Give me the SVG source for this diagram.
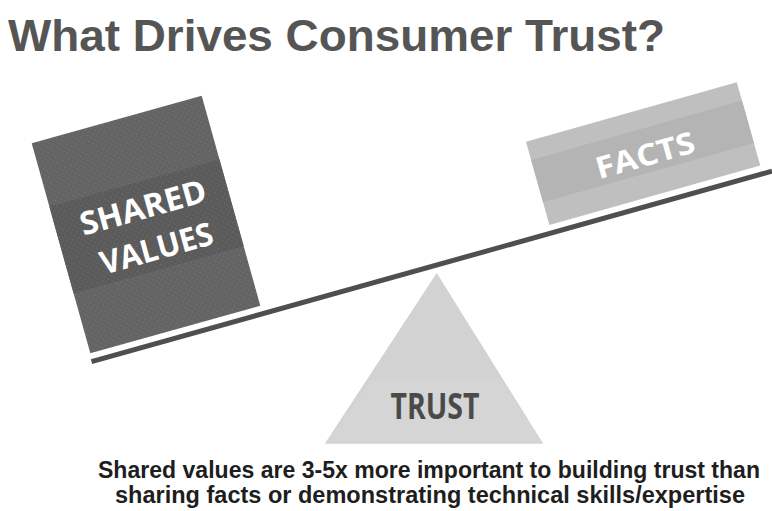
<svg xmlns="http://www.w3.org/2000/svg" width="772" height="511" viewBox="0 0 772 511">
  <defs>
    <style>
      .title { font-family: "Liberation Sans", Arial, sans-serif; font-weight: 700; fill: #555555; }
      .caption { font-family: "Liberation Sans", Arial, sans-serif; font-weight: 700; fill: #1e1e1e; font-size: 23px; }
      .label { font-family: "Open Sans", "DejaVu Sans", sans-serif; font-weight: 700; fill: #ffffff; text-anchor: middle; }
      .trust { font-family: "Open Sans", "DejaVu Sans", sans-serif; font-weight: 700; fill: #4a4a4a; text-anchor: middle; }
    </style>
    <!-- faint speckle used on the block faces -->
    <pattern id="dots" width="6" height="6" patternUnits="userSpaceOnUse">
      <circle cx="1.5" cy="1.5" r="0.6" fill="#ffffff" opacity="0.18"/>
      <circle cx="4.5" cy="4.5" r="0.6" fill="#ffffff" opacity="0.12"/>
    </pattern>
  </defs>

  <rect width="772" height="511" fill="#ffffff"/>

  <!-- heading -->
  <text class="title" x="8" y="51" font-size="45" textLength="657" lengthAdjust="spacingAndGlyphs">What Drives Consumer Trust?</text>

  <!-- seesaw plank -->
  <g id="connectors">
    <line x1="91.5" y1="361.6" x2="772" y2="171.2" stroke="#4f4f4f" stroke-width="5"/>
  </g>

  <!-- heavy block on the low side -->
  <g id="shared-values" transform="translate(31.7,143.3) rotate(-15.6)">
    <rect x="0" y="0" width="176.5" height="218" fill="#646464"/>
    <rect x="0" y="66" width="176.5" height="90" fill="#5b5b5b"/>
    <rect x="0" y="0" width="176.5" height="218" fill="url(#dots)"/>
    <text class="label" x="90" y="103" font-size="32" textLength="130" lengthAdjust="spacingAndGlyphs">SHARED</text>
    <text class="label" x="92" y="146" font-size="32" textLength="116" lengthAdjust="spacingAndGlyphs">VALUES</text>
  </g>

  <!-- light block on the high side -->
  <g id="facts" transform="translate(526,141.7) rotate(-15.74)">
    <rect x="0" y="0" width="219" height="86.5" fill="#bfbfbf"/>
    <rect x="0" y="19" width="219" height="44" fill="#b4b4b4"/>
    <text class="label" x="111" y="56" font-size="30" textLength="102" lengthAdjust="spacingAndGlyphs">FACTS</text>
  </g>

  <!-- fulcrum -->
  <g id="trust">
    <polygon points="436.7,273 325,443.5 543,443.5" fill="#d2d2d2"/>
    <polygon points="372.5,380 501,380 543,443.5 325,443.5" fill="#d5d5d5"/>
    <text class="trust" x="435" y="419" font-size="35" textLength="89" lengthAdjust="spacingAndGlyphs">TRUST</text>
  </g>

  <!-- caption -->
  <g id="caption">
    <text class="caption" x="98" y="478" textLength="662" lengthAdjust="spacingAndGlyphs">Shared values are 3-5x more important to building trust than</text>
    <text class="caption" x="115" y="503" textLength="630" lengthAdjust="spacingAndGlyphs">sharing facts or demonstrating technical skills/expertise</text>
  </g>
</svg>
